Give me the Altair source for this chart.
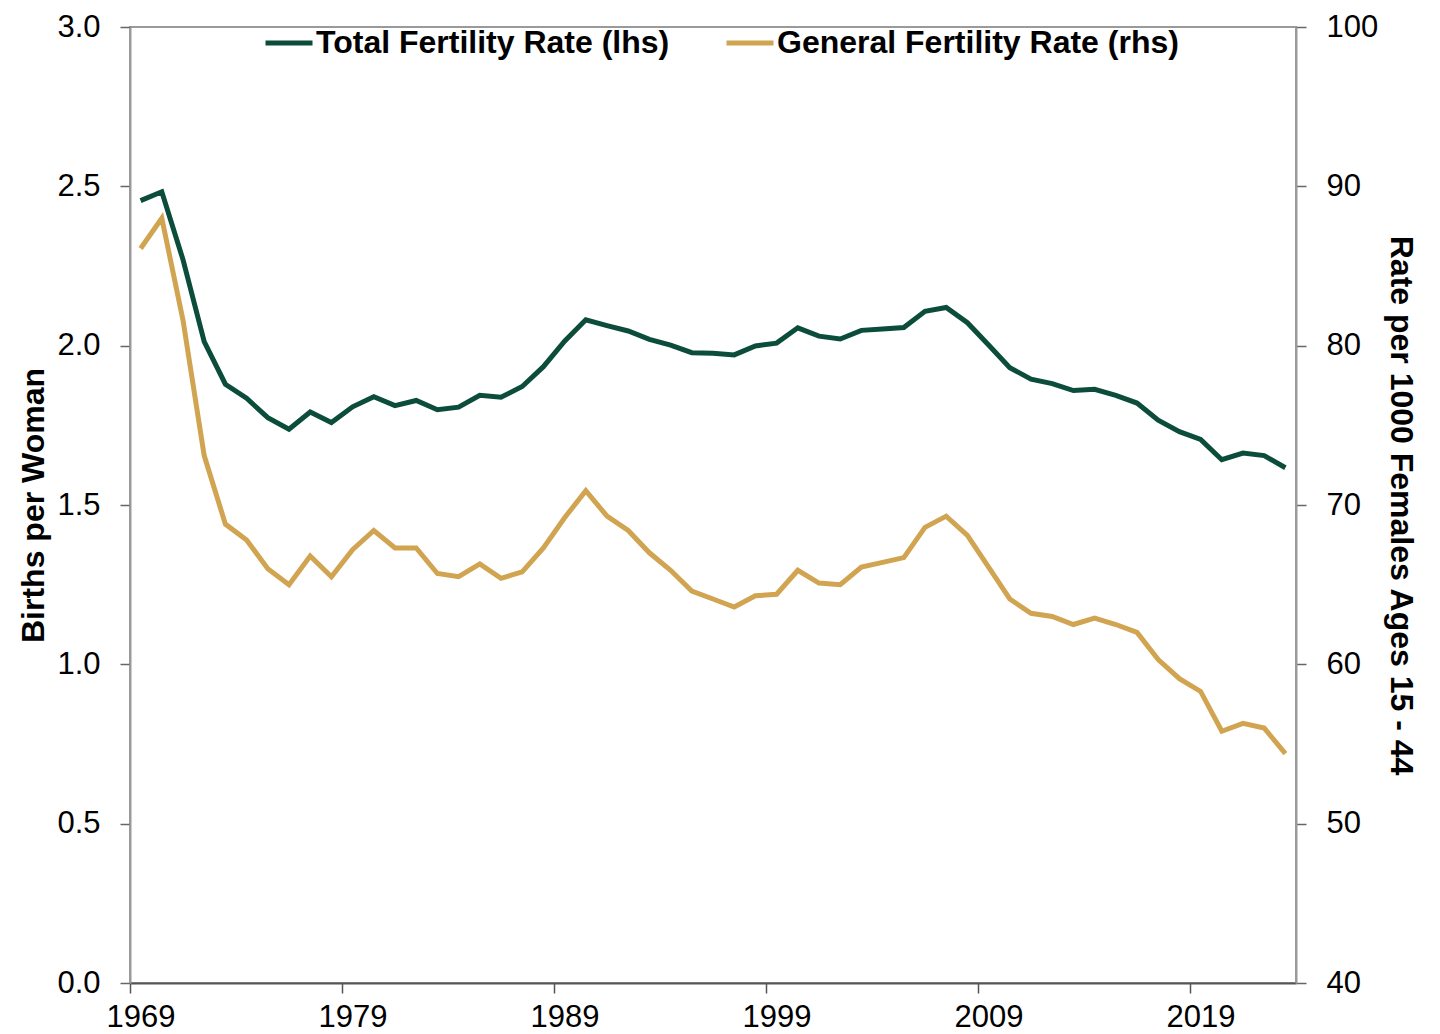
import altair as alt
import pandas as pd

years = list(range(1969, 2024))
tfr = [2.455, 2.483, 2.27, 2.013, 1.879, 1.835, 1.774, 1.738, 1.792, 1.759,
       1.808, 1.840, 1.812, 1.828, 1.799, 1.807, 1.844, 1.838, 1.872, 1.934,
       2.014, 2.081, 2.063, 2.046, 2.020, 2.002, 1.978, 1.976, 1.971, 1.999,
       2.008, 2.056, 2.030, 2.021, 2.048, 2.052, 2.057, 2.108, 2.120, 2.072,
       2.002, 1.931, 1.895, 1.881, 1.859, 1.863, 1.844, 1.820, 1.766, 1.730,
       1.706, 1.642, 1.663, 1.655, 1.617]
gfr = [86.1, 88.0, 81.6, 73.1, 68.8, 67.8, 66.0, 65.0, 66.8, 65.5,
       67.2, 68.4, 67.3, 67.3, 65.7, 65.5, 66.3, 65.4, 65.8, 67.3,
       69.2, 70.9, 69.3, 68.4, 67.0, 65.9, 64.6, 64.1, 63.6, 64.3,
       64.4, 65.9, 65.1, 65.0, 66.1, 66.4, 66.7, 68.6, 69.3, 68.1,
       66.1, 64.1, 63.2, 63.0, 62.5, 62.9, 62.5, 62.0, 60.3, 59.1,
       58.3, 55.8, 56.3, 56.0, 54.4]
series = ["Total Fertility Rate (lhs)", "General Fertility Rate (rhs)"]
colors = ["#0b4d3a", "#d1a451"]
x_label_years = [1969, 1979, 1989, 1999, 2009, 2019]
left_ticks = [0.0, 0.5, 1.0, 1.5, 2.0, 2.5, 3.0]
right_ticks = [40, 50, 60, 70, 80, 90, 100]

df = pd.DataFrame({
    "year": years * 2,
    "value": tfr + gfr,
    "series": [series[0]] * len(years) + [series[1]] * len(years),
})

FONT = "Liberation Sans, Arial"
W, H = 1166, 956
band = W / len(years)

x_enc = alt.X(
    "year:Q",
    scale=alt.Scale(domain=[years[0] - 0.5, years[-1] + 0.5], nice=False, zero=False),
    axis=alt.Axis(
        values=[y - 0.5 for y in x_label_years],
        labelExpr="'' + (datum.value + 0.5)",
        labelOffset=band / 2,
        title=None,
        grid=False,
        domainColor="#555555",
        domainWidth=2,
        tickColor="#555555",
        tickWidth=1.5,
        tickSize=10,
        labelPadding=9,
        labelFontSize=31,
        labelFont=FONT,
        labelColor="#000000",
        labelFlush=False,
    ),
)

color_enc = alt.Color(
    "series:N",
    scale=alt.Scale(domain=series, range=colors),
    legend=alt.Legend(
        orient="none",
        legendX=133,
        legendY=-10,
        direction="horizontal",
        columns=2,
        title=None,
        symbolType="stroke",
        symbolSize=47 * 47,
        symbolStrokeWidth=5,
        labelFontSize=32,
        labelFont=FONT,
        labelFontWeight="bold",
        labelColor="#000000",
        labelOffset=1,
        columnPadding=46,
        padding=0,
        labelLimit=600,
    ),
)

left = alt.Chart(df).transform_filter(
    alt.datum.series == series[0]
).mark_line(strokeWidth=5).encode(
    x=x_enc,
    y=alt.Y(
        "value:Q",
        scale=alt.Scale(domain=[0, 3], nice=False, zero=True),
        axis=alt.Axis(
            orient="left",
            values=left_ticks,
            format=".1f",
            title="Births per Woman",
            titleFont=FONT,
            titleFontSize=32,
            titleFontWeight="bold",
            titleColor="#000000",
            titlePadding=6,
            grid=False,
            domainColor="#9a9a9a",
            domainWidth=2,
            tickColor="#666666",
            tickWidth=1.5,
            tickSize=10,
            labelPadding=20,
            labelFontSize=31,
            labelFont=FONT,
            labelColor="#000000",
            labelFlush=False,
        ),
    ),
    color=color_enc,
)

right = alt.Chart(df).transform_filter(
    alt.datum.series == series[1]
).mark_line(strokeWidth=5).encode(
    x=x_enc,
    y=alt.Y(
        "value:Q",
        scale=alt.Scale(domain=[40, 100], nice=False, zero=False),
        axis=alt.Axis(
            orient="right",
            values=right_ticks,
            title="Rate per 1000 Females Ages 15 - 44",
            titleFont=FONT,
            titleFontSize=32,
            titleFontWeight="bold",
            titleColor="#000000",
            titlePadding=6,
            grid=False,
            domainColor="#9a9a9a",
            domainWidth=2,
            tickColor="#666666",
            tickWidth=1.5,
            tickSize=10,
            labelPadding=20,
            labelFontSize=31,
            labelFont=FONT,
            labelColor="#000000",
            labelFlush=False,
        ),
    ),
    color=color_enc,
)

chart = alt.layer(left, right).resolve_scale(
    y="independent"
).properties(
    width=W,
    height=H,
    autosize=alt.AutoSizeParams(type="none"),
    padding={"left": 122, "top": 19, "right": 135, "bottom": 50},
    background="white",
).configure_view(
    stroke="#9a9a9a",
    strokeWidth=2,
)

chart.save("out.html", embed_options={"renderer": "svg", "actions": False})
